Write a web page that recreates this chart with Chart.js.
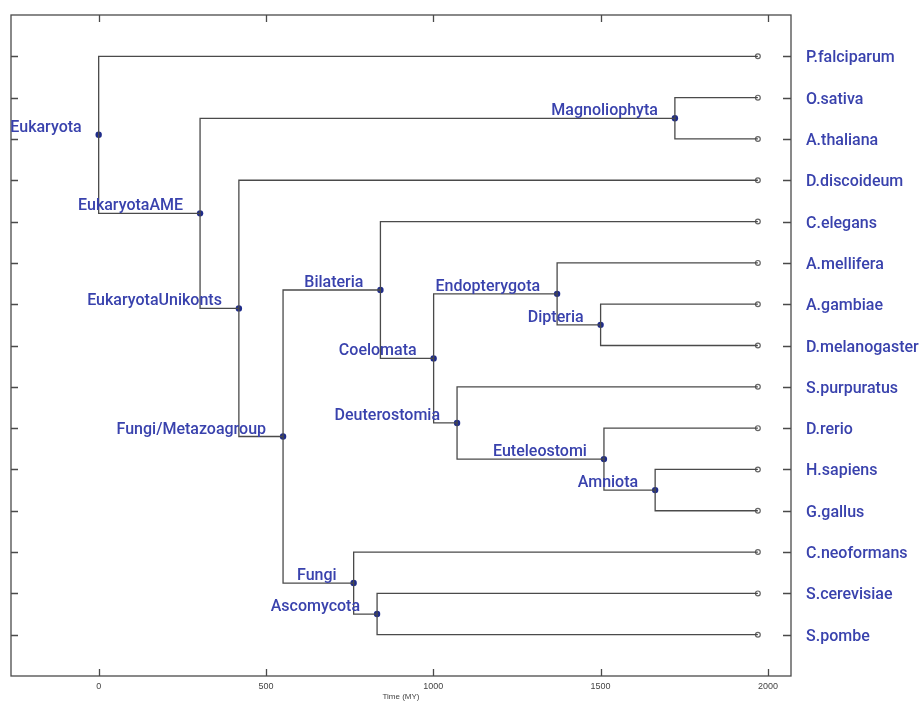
<!DOCTYPE html>
<html>
<head>
<meta charset="utf-8">
<script src="https://cdn.jsdelivr.net/npm/chart.js@4.4.1/dist/chart.umd.min.js"></script>
<style>
  html, body { margin: 0; padding: 0; background: #fff; }
  #arvore { display: block; }
</style>
</head>
<body>
<canvas id="arvore" width="919" height="702"></canvas>
<script>
// folhas (de cima para baixo) e o nó pai de cada uma
const leafLabels = ['P.falciparum', 'O.sativa', 'A.thaliana', 'D.discoideum', 'C.elegans',
  'A.mellifera', 'A.gambiae', 'D.melanogaster', 'S.purpuratus', 'D.rerio',
  'H.sapiens', 'G.gallus', 'C.neoformans', 'S.cerevisiae', 'S.pombe'];
const leafTimes = [1970, 1970, 1970, 1970, 1970, 1970, 1970, 1970, 1970, 1970, 1970, 1970, 1970, 1970, 1970];
const leafParent = [0, 2, 2, 3, 5, 7, 8, 8, 9, 10, 11, 11, 12, 13, 13];

// nós internos
const nodeLabels = ['Eukaryota', 'EukaryotaAME', 'Magnoliophyta', 'EukaryotaUnikonts', 'Fungi/Metazoagroup',
  'Bilateria', 'Coelomata', 'Endopterygota', 'Dipteria', 'Deuterostomia',
  'Euteleostomi', 'Amniota', 'Fungi', 'Ascomycota'];
const nodeTimes = [0, 303, 1722, 419, 551, 842, 1001, 1370, 1500, 1071, 1510, 1663, 762, 832];
const nodeParent = [-1, 0, 1, 1, 3, 4, 5, 6, 7, 6, 9, 10, 4, 12];

// marcas do eixo de tempo
const timeTicks = [0, 500, 1000, 1500, 2000];

const FONTE = 'Roboto, "Liberation Sans", Arial, sans-serif';
const AZUL = '#3942ad';
const LINHA = '#4a4a4a';

// posição vertical: folhas pelo índice, nós pela média dos filhos
const filhos = nodeLabels.map(() => []);
leafParent.forEach((p, i) => filhos[p].push({ tipo: 'folha', i }));
nodeParent.forEach((p, i) => { if (p >= 0) filhos[p].push({ tipo: 'no', i }); });

const nodeY = [];
function calcY(n) {
  if (nodeY[n] !== undefined) return nodeY[n];
  const ys = filhos[n].map(f => f.tipo === 'folha' ? f.i : calcY(f.i));
  nodeY[n] = ys.reduce((a, b) => a + b, 0) / ys.length;
  return nodeY[n];
}
nodeLabels.forEach((_, i) => calcY(i));

// um dataset por ramo (cotovelo pai -> filho)
const ramos = [];
function ramo(pai, tFilho, yFilho) {
  const tp = nodeTimes[pai], yp = nodeY[pai];
  ramos.push({
    type: 'line',
    data: [{ x: tp, y: yp }, { x: tp, y: yFilho }, { x: tFilho, y: yFilho }],
    borderColor: LINHA,
    borderWidth: 1.3,
    pointRadius: 0,
    tension: 0,
    fill: false
  });
}
leafParent.forEach((p, i) => ramo(p, leafTimes[i], i));
nodeParent.forEach((p, i) => { if (p >= 0) ramo(p, nodeTimes[i], nodeY[i]); });

const pontosNos = {
  type: 'scatter',
  data: nodeTimes.map((t, i) => ({ x: t, y: nodeY[i] })),
  pointRadius: 3.2,
  pointStyle: 'circle',
  backgroundColor: '#1f2c8a',
  borderColor: '#1f2c8a',
  borderWidth: 0
};
const pontosFolhas = {
  type: 'scatter',
  data: leafTimes.map((t, i) => ({ x: t, y: i })),
  pointRadius: 2.4,
  backgroundColor: '#fff',
  borderColor: '#666',
  borderWidth: 1.2
};

// moldura com marcas para dentro + rótulos dos nós internos
const molduraPlugin = {
  id: 'moldura',
  afterDatasetsDraw(chart) {
    const { ctx, chartArea: a, scales: { x, y } } = chart;
    ctx.save();
    ctx.strokeStyle = LINHA;
    ctx.lineWidth = 1.3;
    ctx.strokeRect(a.left, a.top, a.right - a.left, a.bottom - a.top);
    ctx.beginPath();
    timeTicks.forEach(t => {
      const px = Math.round(x.getPixelForValue(t)) + 0.5;
      ctx.moveTo(px, a.top); ctx.lineTo(px, a.top + 7);
      ctx.moveTo(px, a.bottom); ctx.lineTo(px, a.bottom - 7);
    });
    leafLabels.forEach((_, i) => {
      const py = Math.round(y.getPixelForValue(i)) + 0.5;
      ctx.moveTo(a.left, py); ctx.lineTo(a.left + 7, py);
      ctx.moveTo(a.right, py); ctx.lineTo(a.right - 8, py);
    });
    ctx.stroke();

    ctx.fillStyle = AZUL;
    ctx.font = '500 16px ' + FONTE;
    ctx.textAlign = 'right';
    ctx.textBaseline = 'middle';
    nodeLabels.forEach((nome, i) => {
      const px = x.getPixelForValue(nodeTimes[i]);
      const py = y.getPixelForValue(nodeY[i]);
      ctx.fillText(nome, px - 17, py - 7);
    });
    ctx.restore();
  }
};

new Chart(document.getElementById('arvore'), {
  data: { datasets: [...ramos, pontosNos, pontosFolhas] },
  options: {
    responsive: false,
    animation: false,
    layout: { padding: { left: 11, top: 15, right: 0, bottom: 0 } },
    plugins: { legend: { display: false }, tooltip: { enabled: false } },
    scales: {
      x: {
        type: 'linear',
        min: -262,
        max: 2069,
        grid: { display: false, drawTicks: false },
        border: { display: false },
        ticks: {
          maxRotation: 0,
          padding: 5,
          color: '#444',
          font: { size: 9, family: '"Liberation Sans", Arial, sans-serif' },
          callback: v => String(v)
        },
        afterBuildTicks: s => { s.ticks = timeTicks.map(v => ({ value: v })); },
        title: {
          display: true,
          text: 'Time (MY)',
          color: '#444',
          font: { size: 8, family: '"Liberation Sans", Arial, sans-serif' },
          padding: { top: 0, bottom: 0 }
        },
        afterFit: s => { s.height = 26; s.paddingLeft = 0; s.paddingRight = 0; }
      },
      y: {
        type: 'linear',
        position: 'right',
        min: -1,
        max: 15,
        reverse: true,
        grid: { display: false, drawTicks: false },
        border: { display: false },
        ticks: {
          autoSkip: false,
          padding: 15,
          labelOffset: 2,
          color: AZUL,
          font: { size: 16, family: FONTE, weight: 500 },
          callback: v => leafLabels[v] ?? ''
        },
        afterBuildTicks: s => { s.ticks = leafLabels.map((_, i) => ({ value: i })); },
        afterFit: s => { s.width = 128; s.paddingTop = 0; s.paddingBottom = 0; }
      }
    }
  },
  plugins: [molduraPlugin]
});
</script>
</body>
</html>
